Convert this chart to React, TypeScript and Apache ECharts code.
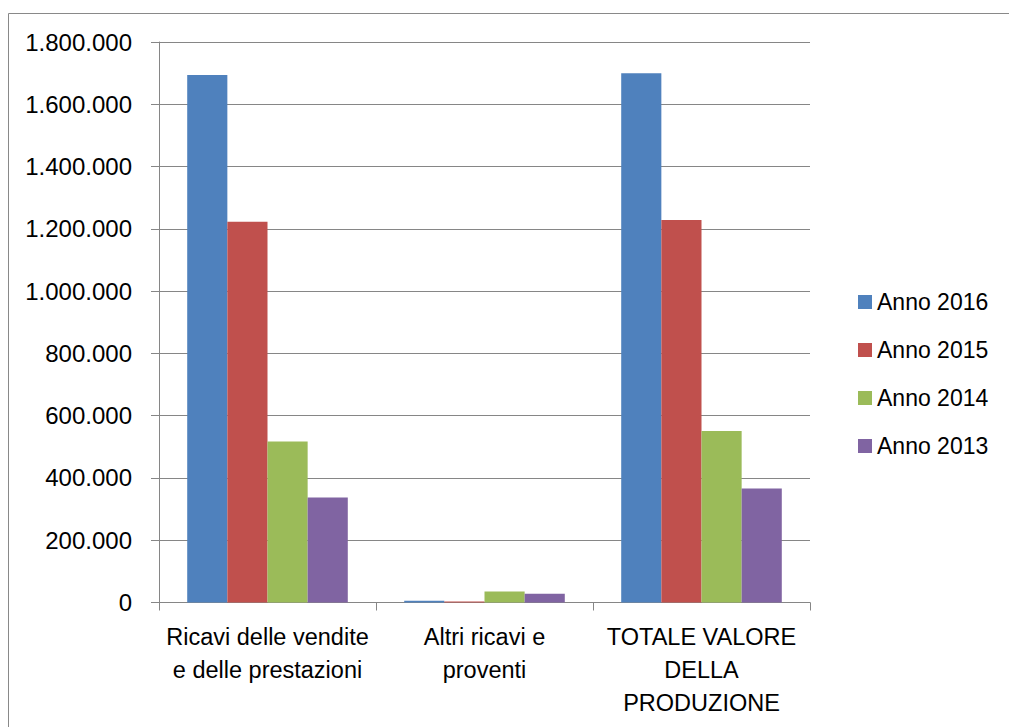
import React, { useEffect, useRef } from "react";
import * as echarts from "echarts";

const categories = [
  "Ricavi delle vendite\ne delle prestazioni",
  "Altri ricavi e\nproventi",
  "TOTALE VALORE\nDELLA\nPRODUZIONE",
];
const seriesNames = ["Anno 2016", "Anno 2015", "Anno 2014", "Anno 2013"];
const anno2016 = [1694000, 6000, 1700000];
const anno2015 = [1223000, 3000, 1228000];
const anno2014 = [517000, 35000, 551000];
const anno2013 = [337000, 28000, 366000];
const seriesData = [anno2016, anno2015, anno2014, anno2013];
const colors = ["#4F81BD", "#C0504D", "#9BBB59", "#8064A2"];

const fmt = (v: number) =>
  String(Math.round(v)).replace(/\B(?=(\d{3})+(?!\d))/g, ".");

export default function App() {
  const ref = useRef<HTMLDivElement>(null);
  useEffect(() => {
    if (!ref.current) return;
    const chart = echarts.init(ref.current, undefined, { renderer: "svg" });
    const font = "Liberation Sans, Arial, sans-serif";
    chart.setOption({
      animation: false,
      backgroundColor: "#ffffff",
      color: colors,
      graphic: [
        {
          type: "rect",
          shape: { x: 8.5, y: 13.5, width: 1010, height: 730 },
          style: { fill: "none", stroke: "#898989", lineWidth: 1 },
          silent: true,
        },
      ],
      grid: { left: 159, right: 199, top: 42, bottom: 124.5 },
      legend: {
        orient: "vertical",
        left: 853,
        top: 285,
        itemWidth: 14,
        itemHeight: 14,
        itemGap: 24,
        icon: "rect",
        data: seriesNames,
        textStyle: {
          fontFamily: font,
          fontSize: 23,
          color: "#000",
          lineHeight: 24,
          padding: [0, 0, 0, 0],
        },
      },
      xAxis: {
        type: "category",
        data: categories,
        axisLine: { lineStyle: { color: "#868686", width: 1 } },
        axisTick: {
          show: true,
          length: 8,
          interval: 0,
          alignWithLabel: false,
          lineStyle: { color: "#868686" },
        },
        axisLabel: {
          interval: 0,
          margin: 18,
          fontFamily: font,
          fontSize: 23.5,
          lineHeight: 33,
          color: "#000",
          align: "center",
        },
      },
      yAxis: {
        type: "value",
        min: 0,
        max: 1800000,
        interval: 200000,
        axisLine: { show: true, lineStyle: { color: "#868686", width: 1 } },
        axisTick: { show: true, length: 8, lineStyle: { color: "#868686" } },
        splitLine: { show: true, lineStyle: { color: "#868686", width: 1 } },
        axisLabel: {
          margin: 27,
          fontFamily: font,
          fontSize: 24,
          color: "#000",
          formatter: (v: number) => fmt(v),
        },
      },
      series: seriesNames.map((name, i) => ({
        name,
        type: "bar",
        data: seriesData[i],
        barGap: "0%",
        barCategoryGap: "26%",
        itemStyle: { color: colors[i] },
      })),
    });
    return () => chart.dispose();
  }, []);
  return (
    <div
      ref={ref}
      style={{ position: "absolute", left: 0, top: 0, width: 1009, height: 727 }}
    />
  );
}
